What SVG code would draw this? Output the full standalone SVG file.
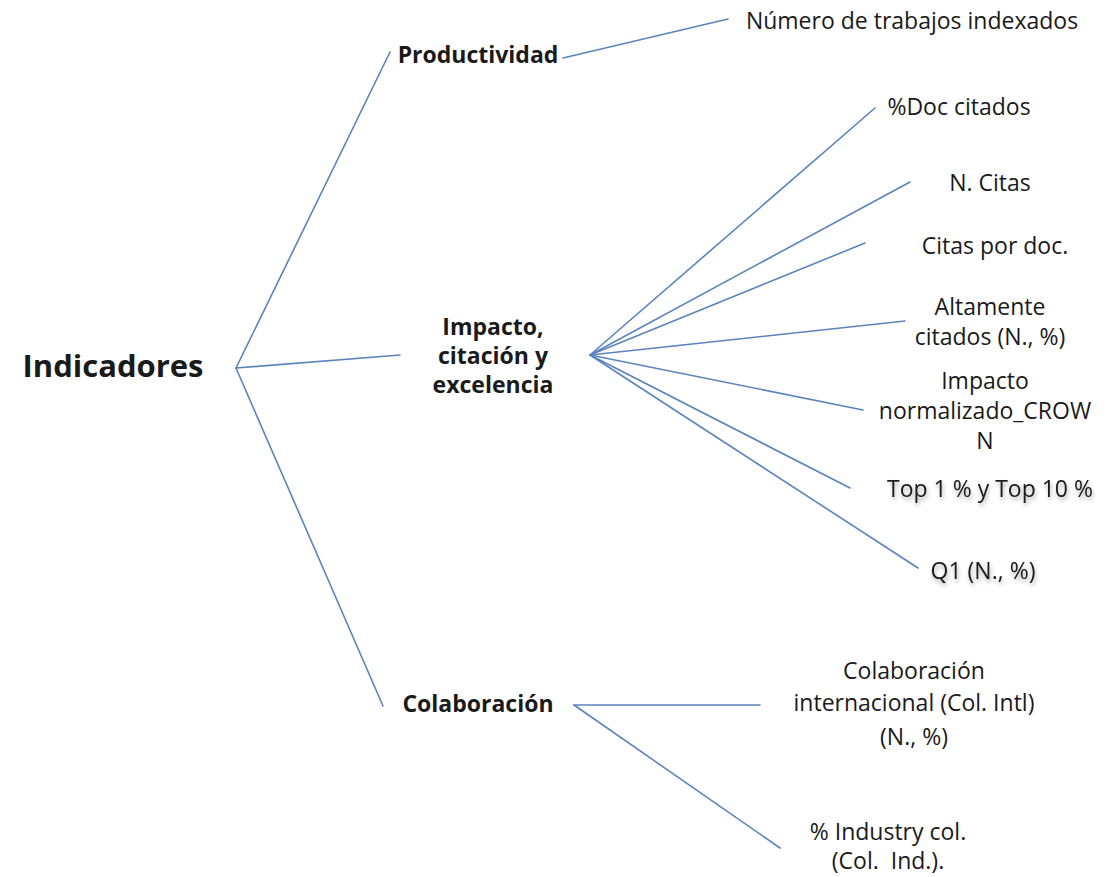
<svg xmlns="http://www.w3.org/2000/svg" width="1120" height="877" viewBox="0 0 1120 877">
<defs>
<style>
.c{stroke:#5b84bd;stroke-width:1.6;fill:none;stroke-linecap:round}
text{font-family:"Open Sans","Liberation Sans",sans-serif;fill:#1a1a1a}
.b{font-weight:bold}
.n{font-size:23px}
.m{text-anchor:middle}
</style>
<filter id="sh" x="-10%" y="-30%" width="120%" height="170%">
<feGaussianBlur in="SourceAlpha" stdDeviation="2"/>
<feOffset dx="1" dy="3"/>
<feComponentTransfer><feFuncA type="linear" slope="0.35"/></feComponentTransfer>
<feMerge><feMergeNode/><feMergeNode in="SourceGraphic"/></feMerge>
</filter>
</defs>
<rect width="1120" height="877" fill="#ffffff"/>
<g id="connectors">
<path class="c" d="M236 368 L390 52"/>
<path class="c" d="M236 368 L400 355"/>
<path class="c" d="M236 368 L383 706"/>
<path class="c" d="M563 58 L728 19"/>
<path class="c" d="M590 355 L875 108"/>
<path class="c" d="M590 355 L910 182"/>
<path class="c" d="M590 355 L865 243"/>
<path class="c" d="M590 355 L905 321"/>
<path class="c" d="M590 355 L863 410"/>
<path class="c" d="M590 355 L850 488"/>
<path class="c" d="M590 355 L918 568"/>
<path class="c" d="M574 705 L760 705"/>
<path class="c" d="M574 705 L780 848"/>
</g>
<g id="root"><text class="b" x="113" y="377" font-size="31" text-anchor="middle">Indicadores</text></g>
<g id="productividad"><text class="b n" x="478" y="63" text-anchor="middle">Productividad</text></g>
<g id="impacto"><text class="b n m" x="493" y="335">Impacto,</text><text class="b n m" x="493" y="364">citación y</text><text class="b n m" x="493" y="393">excelencia</text></g>
<g id="colaboracion"><text class="b n m" x="478" y="712">Colaboración</text></g>
<g id="numero"><text class="n m" x="912" y="29">Número de trabajos indexados</text></g>
<g id="doc"><text class="n m" x="959" y="115">%Doc citados</text></g>
<g id="ncitas"><text class="n m" x="990" y="191">N. Citas</text></g>
<g id="citaspor"><text class="n m" x="995" y="254">Citas por doc.</text></g>
<g id="altamente"><text class="n m" x="990" y="315">Altamente</text><text class="n m" x="990" y="345">citados (N., %)</text></g>
<g id="normalizado"><text class="n m" x="985" y="389">Impacto</text><text class="n m" x="985" y="419">normalizado_CROW</text><text class="n m" x="985" y="449">N</text></g>
<g id="top" filter="url(#sh)"><text class="n m" x="990" y="497">Top 1 % y Top 10 %</text></g>
<g id="q1" filter="url(#sh)"><text class="n m" x="983" y="579">Q1 (N., %)</text></g>
<g id="colint"><text class="n m" x="914" y="679">Colaboración</text><text class="n m" x="914" y="711">internacional (Col. Intl)</text><text class="n m" x="914" y="745">(N., %)</text></g>
<g id="industry"><text class="n m" x="888" y="840">% Industry col.</text><text class="n m" x="888" y="869" xml:space="preserve" style="white-space:pre">(Col.  Ind.).</text></g>
</svg>
